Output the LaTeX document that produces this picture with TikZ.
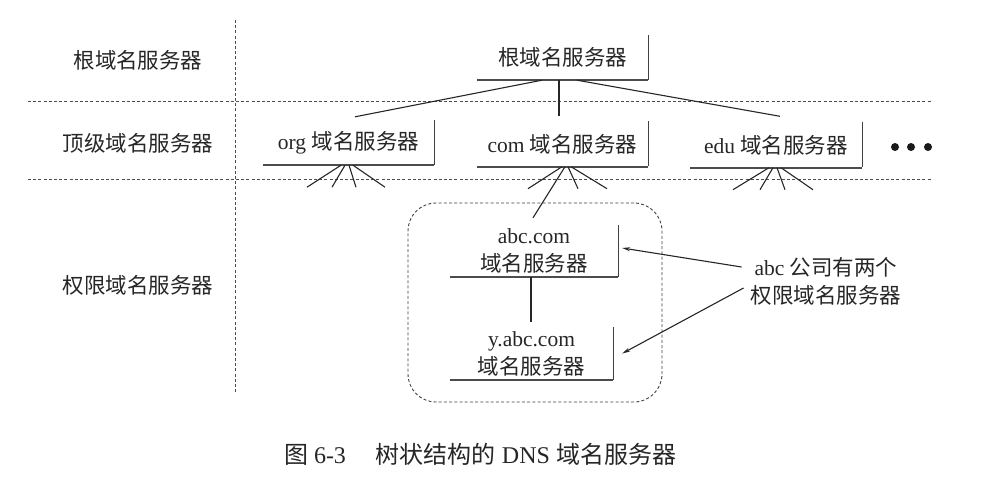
\documentclass[tikz,border=0pt]{standalone}
\usepackage{fontspec}
\setmainfont{Liberation Serif}
\newfontfamily\cjk{Noto Sans CJK SC}
\usetikzlibrary{arrows.meta}
\tikzset{
  txt/.style={text=black!85, font=\fontsize{21.5pt}{28pt}\selectfont, inner sep=0pt, align=center},
  srv/.style={txt, minimum width=#1, minimum height=45pt},
  srvl/.style={draw=black!70, line width=1.8pt},
  srvr/.style={draw=black!75, line width=1.2pt},
  sep/.style={draw=black!70, line width=0.8pt, dash pattern=on 3pt off 2.2pt},
  con/.style={draw=black!85, line width=1.1pt},
  arr/.style={con, -{Stealth[length=8pt,width=4pt]}},
  grp/.style={draw=black!75, line width=0.9pt, dash pattern=on 3pt off 2.2pt, rounded corners=28pt}
}
\newcommand{\srvbox}[1]{\draw[srvl] (#1.south west) -- (#1.south east);\draw[srvr] ([yshift=0.6pt]#1.south east) -- (#1.north east);}
\begin{document}
\begin{tikzpicture}[x=1pt,y=-1pt]
\useasboundingbox (0,0) rectangle (989,477);
% separators
\draw[sep] (235,20) -- (235,393);
\draw[sep] (28,101) -- (932,101);
\draw[sep] (28,179) -- (932,179);
% level labels
\node[txt] (l1) at (138,60) {\cjk 根域名服务器};
\node[txt] (l2) at (138,143) {\cjk 顶级域名服务器};
\node[txt] (l3) at (138,285) {\cjk 权限域名服务器};
% servers
\node[srv=171pt] (root) at (562.5,57.5) {\cjk 根域名服务器};
\node[srv=171pt] (org) at (348.5,142.5) {org {\cjk 域名服务器}};
\node[srv=171pt] (com) at (562.5,144) {com {\cjk 域名服务器}};
\node[srv=172pt] (edu) at (776,145) {edu {\cjk 域名服务器}};
\node[srv=168pt, minimum height=52pt] (abc) at (534,251) {abc.com\\{\cjk 域名服务器}};
\node[srv=163pt, minimum height=53pt] (yabc) at (531.5,353.5) {y.abc.com\\{\cjk 域名服务器}};
\srvbox{root}\srvbox{org}\srvbox{com}\srvbox{edu}\srvbox{abc}\srvbox{yabc}
% dots
\foreach \x/\n in {895/d1,911/d2,928/d3}
  \fill[black!90] (\x,147) circle (4pt) coordinate (\n);
% group
\node[grp, minimum width=254pt, minimum height=199pt] (group) at (535,302.5) {};
% root connectors
\draw[con] ([xshift=-20.5pt]root.south) -- ([xshift=6.5pt,yshift=3pt]org.north);
\draw[con] ([xshift=-3.5pt]root.south) -- ([xshift=-3.5pt,yshift=5pt]com.north);
\draw[con] ([xshift=14.5pt]root.south) -- ([xshift=4pt,yshift=6pt]edu.north);
% org fan
\draw[con] ([xshift=-7.5pt]org.south) -- ++(-34,22);
\draw[con] ([xshift=-3.5pt]org.south) -- ++(-13,22);
\draw[con] ([xshift=0.5pt]org.south) -- ++(7,22);
\draw[con] ([xshift=4.5pt]org.south) -- ++(32,22);
% com fan
\draw[con] ([xshift=-0.5pt]com.south) -- ++(-34,22);
\draw[con] ([xshift=2.5pt]com.south) -- ([xshift=-1pt,yshift=7pt]abc.north);
\draw[con] ([xshift=5.5pt]com.south) -- ++(10,22);
\draw[con] ([xshift=8.5pt]com.south) -- ++(36,22);
% edu fan
\draw[con] ([xshift=-7pt]edu.south) -- ++(-36,22);
\draw[con] ([xshift=-3pt]edu.south) -- ++(-13,22);
\draw[con] ([xshift=1pt]edu.south) -- ++(8,22);
\draw[con] ([xshift=5pt]edu.south) -- ++(32,22);
% abc -> y.abc
\draw[con] ([xshift=-3pt]abc.south) -- ([xshift=-0.5pt,yshift=5pt]yabc.north);
% annotation
\node[txt] (note) at (826,281) {abc {\cjk 公司有两个}\\{\cjk 权限域名服务器}};
\draw[arr] ([xshift=-9pt,yshift=14pt]note.west) -- ([xshift=4pt,yshift=3pt]abc.east);
\draw[arr] ([xshift=-7pt,yshift=-7pt]note.west) -- ([xshift=9pt]yabc.east);
% caption
\node[text=black!85, font=\fontsize{24pt}{28pt}\selectfont, inner sep=0pt] (cap) at (480,454) {{\cjk 图} 6-3\hspace{30pt}{\cjk 树状结构的} DNS {\cjk 域名服务器}};
\end{tikzpicture}
\end{document}
